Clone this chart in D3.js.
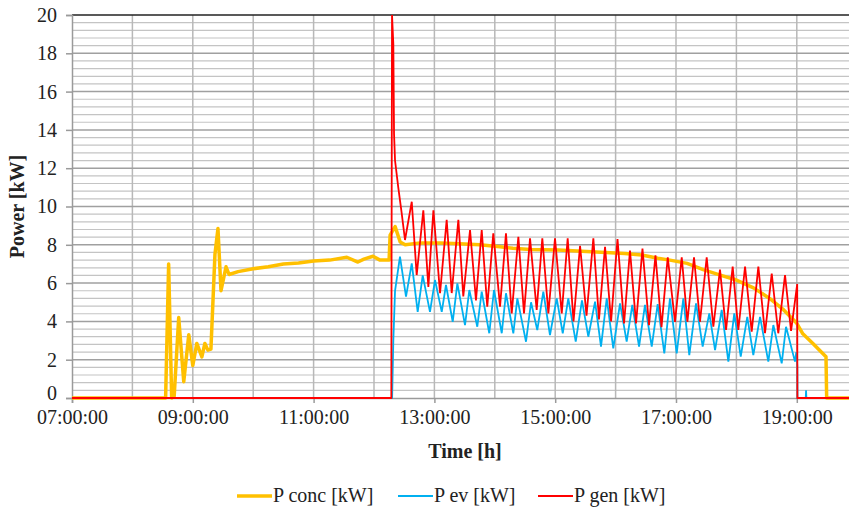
<!DOCTYPE html>
<html>
<head>
<meta charset="utf-8">
<title>Power</title>
<script src="https://cdn.jsdelivr.net/npm/d3@7"></script>
<style>
  body { margin: 0; background: #fff; }
  svg { display: block; }
  svg text { font-family: "Times New Roman", "Liberation Serif", "DejaVu Serif", serif; }
</style>
</head>
<body>
<div id="chart"></div>
<script>
// tick labels
const xTicks = ["07:00:00", "09:00:00", "11:00:00", "13:00:00", "15:00:00", "17:00:00", "19:00:00"];
const yTicks = [0, 2, 4, 6, 8, 10, 12, 14, 16, 18, 20];

// P conc [kW]
const pConc = [
  ["07:00:00", 0], ["08:33:00", 0], ["08:36:00", 7.0], ["08:39:00", 0], ["08:41:30", 0.1],
  ["08:46:00", 4.2], ["08:51:00", 0.85], ["08:56:00", 3.3], ["09:00:00", 1.7], ["09:04:00", 2.85],
  ["09:09:00", 2.15], ["09:12:00", 2.85], ["09:15:00", 2.5], ["09:18:00", 2.55], ["09:22:00", 7.5],
  ["09:25:00", 8.85], ["09:28:00", 5.6], ["09:33:00", 6.85], ["09:36:00", 6.45], ["09:45:00", 6.6],
  ["10:00:00", 6.75], ["10:15:00", 6.85], ["10:30:00", 7.0], ["10:45:00", 7.05], ["11:00:00", 7.15],
  ["11:16:00", 7.2], ["11:33:00", 7.35], ["11:44:00", 7.1], ["11:50:00", 7.25], ["11:59:00", 7.4],
  ["12:06:00", 7.2], ["12:15:00", 7.2], ["12:16:00", 8.5], ["12:21:00", 8.95], ["12:26:00", 8.15],
  ["12:31:00", 8.0], ["12:46:00", 8.1], ["13:06:00", 8.1], ["13:25:00", 8.05], ["13:45:00", 8.0],
  ["14:05:00", 7.9], ["14:18:00", 7.82], ["14:35:00", 7.75], ["15:03:00", 7.73], ["15:36:00", 7.64],
  ["16:09:00", 7.55], ["16:26:00", 7.47], ["16:42:00", 7.3], ["16:54:00", 7.2], ["17:11:00", 7.03],
  ["17:27:00", 6.7], ["17:44:00", 6.42], ["18:00:00", 6.16], ["18:17:00", 5.75], ["18:33:00", 5.2],
  ["18:47:00", 4.6], ["19:00:00", 3.9], ["19:06:00", 3.35], ["19:16:00", 2.85], ["19:29:00", 2.15],
  ["19:29:40", 0], ["20:00:00", 0]
];

// P ev [kW]
const pEv = [
  ["07:00:00", 0], ["12:18:00", 0], ["12:19:12", 3.0], ["12:20:54", 5.6], ["12:25:48", 7.38],
  ["12:31:48", 5.29], ["12:37:30", 7.03], ["12:43:24", 4.5], ["12:48:24", 6.4], ["12:55:36", 4.5],
  ["13:00:36", 6.16], ["13:07:18", 4.5], ["13:11:30", 5.9], ["13:18:12", 3.98], ["13:22:48", 5.99],
  ["13:30:24", 3.81], ["13:34:42", 5.64], ["13:42:36", 3.72], ["13:47:00", 5.55], ["13:54:30", 3.38],
  ["13:59:12", 5.64], ["14:06:54", 3.38], ["14:11:06", 5.47], ["14:18:24", 3.38], ["14:22:24", 5.2],
  ["14:31:00", 2.94], ["14:36:00", 5.0], ["14:42:12", 3.55], ["14:48:12", 5.55], ["14:54:48", 3.29],
  ["15:01:30", 5.2], ["15:07:30", 3.38], ["15:13:00", 5.2], ["15:20:24", 2.94], ["15:26:36", 5.1],
  ["15:32:54", 3.2], ["15:39:36", 5.03], ["15:45:30", 2.68], ["15:51:12", 5.2], ["15:57:42", 2.59],
  ["16:04:24", 4.94], ["16:11:00", 2.94], ["16:16:36", 4.86], ["16:23:18", 2.68], ["16:29:12", 4.86],
  ["16:35:54", 2.68], ["16:41:48", 4.9], ["16:48:24", 2.33], ["16:54:00", 5.2], ["17:00:42", 2.33],
  ["17:07:18", 5.2], ["17:13:12", 2.24], ["17:19:54", 4.94], ["17:26:30", 2.68], ["17:33:06", 4.42],
  ["17:38:48", 2.5], ["17:45:24", 4.6], ["17:52:00", 1.9], ["17:57:54", 4.42], ["18:04:18", 2.16],
  ["18:10:48", 4.24], ["18:16:48", 2.24], ["18:23:30", 4.24], ["18:31:42", 1.9], ["18:36:42", 3.81],
  ["18:45:00", 1.81], ["18:49:18", 3.72], ["18:58:12", 1.9], ["18:59:30", 2.4], ["19:00:30", 1.7],
  ["19:00:42", 0], ["19:08:54", 0], ["19:09:12", 0.4], ["19:09:30", 0], ["20:00:00", 0]
];

// P gen [kW]
const pGen = [
  ["07:00:00", 0], ["12:17:12", 0], ["12:17:54", 20], ["12:19:12", 18.5], ["12:19:54", 13.8],
  ["12:20:54", 12.4], ["12:24:06", 11.0], ["12:27:30", 9.65], ["12:30:48", 8.25], ["12:37:30", 10.25],
  ["12:42:24", 6.42], ["12:49:00", 9.8], ["12:54:00", 5.8], ["12:59:00", 9.8], ["13:05:36", 5.48],
  ["13:12:12", 9.3], ["13:17:12", 5.48], ["13:23:48", 9.3], ["13:28:42", 5.3], ["13:35:24", 8.77],
  ["13:41:18", 5.1], ["13:47:00", 8.77], ["13:52:30", 4.77], ["13:58:30", 8.6], ["14:05:12", 4.77],
  ["14:11:06", 8.6], ["14:16:48", 4.42], ["14:23:24", 8.42], ["14:29:00", 4.42], ["14:35:00", 8.34],
  ["14:41:36", 4.6], ["14:47:12", 8.34], ["14:53:12", 4.42], ["14:59:48", 8.34], ["15:06:30", 4.42],
  ["15:12:24", 8.34], ["15:18:12", 4.0], ["15:24:42", 7.95], ["15:31:06", 4.3], ["15:37:54", 8.34],
  ["15:43:30", 4.1], ["15:49:30", 7.9], ["15:55:30", 4.0], ["16:01:54", 8.3], ["16:08:24", 3.9],
  ["16:14:18", 7.7], ["16:20:18", 3.9], ["16:26:42", 7.8], ["16:33:12", 3.8], ["16:39:36", 7.45],
  ["16:45:36", 3.7], ["16:51:48", 7.35], ["16:59:00", 3.98], ["17:05:42", 7.35], ["17:11:18", 3.98],
  ["17:17:54", 7.35], ["17:23:48", 3.98], ["17:30:30", 7.35], ["17:37:06", 3.72], ["17:43:42", 6.7],
  ["17:49:42", 3.55], ["17:56:18", 6.86], ["18:01:54", 3.55], ["18:08:36", 6.86], ["18:15:12", 3.46],
  ["18:21:48", 6.86], ["18:28:24", 3.38], ["18:35:06", 6.5], ["18:41:36", 3.38], ["18:48:18", 6.42],
  ["18:54:18", 3.5], ["19:00:24", 5.95], ["19:00:36", 0], ["20:00:00", 0]
];

const w = 849;
const h = 511;
const padLeft = 72, padTop = 15, axisY = 398;
const serif = "Times New Roman, Liberation Serif, DejaVu Serif, serif";

const parse = d3.timeParse("%H:%M:%S");
const fmt = d3.timeFormat("%H:%M:%S");

const xScale = d3.scaleTime()
  .domain([parse("07:00:00"), parse("20:00:00")])
  .range([padLeft, padLeft + 13 * 60.4]);

const yScale = d3.scaleLinear()
  .domain([0, 20])
  .range([axisY, padTop]);

const svg = d3.select("#chart")
  .append("svg")
  .attr("width", w)
  .attr("height", h)
  .attr("font-family", serif);

// minor horizontal grid
svg.append("g")
  .selectAll("line")
  .data(d3.range(0.4, 20, 0.4).filter(v => Math.abs(v / 2 - Math.round(v / 2)) > 0.01))
  .enter()
  .append("line")
  .attr("x1", padLeft).attr("x2", w)
  .attr("y1", d => yScale(d)).attr("y2", d => yScale(d))
  .attr("stroke", "#c4c4c4")
  .attr("stroke-width", 1.2);

// vertical grid every hour
svg.append("g")
  .selectAll("line")
  .data(d3.timeHour.range(parse("08:00:00"), parse("20:00:00")))
  .enter()
  .append("line")
  .attr("x1", d => xScale(d)).attr("x2", d => xScale(d))
  .attr("y1", padTop).attr("y2", axisY)
  .attr("stroke", "#b8b8b8")
  .attr("stroke-width", 1.5);

// major horizontal grid
svg.append("g")
  .selectAll("line")
  .data(yTicks.slice(1, -1))
  .enter()
  .append("line")
  .attr("x1", padLeft).attr("x2", w)
  .attr("y1", d => yScale(d)).attr("y2", d => yScale(d))
  .attr("stroke", "#a0a0a0")
  .attr("stroke-width", 1.5);

// top border
svg.append("line")
  .attr("x1", padLeft).attr("x2", w)
  .attr("y1", padTop).attr("y2", padTop)
  .attr("stroke", "#222")
  .attr("stroke-width", 1.5);

// axes
const yAxis = d3.axisLeft(yScale).tickValues(yTicks).tickSize(6).tickPadding(9);
const xAxis = d3.axisBottom(xScale).tickValues(xTicks.map(parse)).tickFormat(fmt).tickSize(5).tickPadding(7);

const gy = svg.append("g")
  .attr("transform", "translate(" + padLeft + ",0)")
  .call(yAxis);

const gx = svg.append("g")
  .attr("transform", "translate(0," + axisY + ")")
  .call(xAxis);

[gx, gy].forEach(g => {
  g.attr("font-family", serif).attr("font-size", 20);
  g.select(".domain").attr("stroke", "#9a9a9a").attr("stroke-width", 1.5);
  g.selectAll(".tick line").attr("stroke", "#9a9a9a").attr("stroke-width", 1.5);
  g.selectAll("text").attr("fill", "#222");
});
gy.select(".tick text").attr("dy", "0.05em");

const line = d3.line()
  .x(d => xScale(parse(d[0])))
  .y(d => yScale(d[1]));

svg.append("path")
  .datum(pConc)
  .attr("d", line)
  .attr("fill", "none")
  .attr("stroke", "#FFC000")
  .attr("stroke-width", 3.5)
  .attr("stroke-linejoin", "round");

svg.append("path")
  .datum(pEv)
  .attr("d", line)
  .attr("fill", "none")
  .attr("stroke", "#00B0F0")
  .attr("stroke-width", 1.8);

svg.append("path")
  .datum(pGen)
  .attr("d", line)
  .attr("fill", "none")
  .attr("stroke", "#FF0000")
  .attr("stroke-width", 1.8);

// axis titles
svg.append("text")
  .attr("x", 465)
  .attr("y", 458)
  .attr("text-anchor", "middle")
  .attr("font-size", 20)
  .attr("font-weight", "bold")
  .attr("fill", "#222")
  .text("Time [h]");

svg.append("text")
  .attr("transform", "translate(24," + ((padTop + axisY) / 2) + ") rotate(-90)")
  .attr("text-anchor", "middle")
  .attr("font-size", 20)
  .attr("font-weight", "bold")
  .attr("fill", "#222")
  .text("Power [kW]");

// legend
const legend = [
  { name: "P conc [kW]", color: "#FFC000", width: 3.5, x: 237 },
  { name: "P ev [kW]", color: "#00B0F0", width: 2, x: 398 },
  { name: "P gen [kW]", color: "#FF0000", width: 2, x: 538 }
];
const lg = svg.append("g").attr("transform", "translate(0,496)");
lg.selectAll("line")
  .data(legend)
  .enter()
  .append("line")
  .attr("x1", d => d.x).attr("x2", d => d.x + 35)
  .attr("y1", 0).attr("y2", 0)
  .attr("stroke", d => d.color)
  .attr("stroke-width", d => d.width);
lg.selectAll("text")
  .data(legend)
  .enter()
  .append("text")
  .attr("x", d => d.x + 36)
  .attr("y", 6)
  .attr("font-size", 20)
  .attr("fill", "#222")
  .text(d => d.name);
</script>
</body>
</html>
